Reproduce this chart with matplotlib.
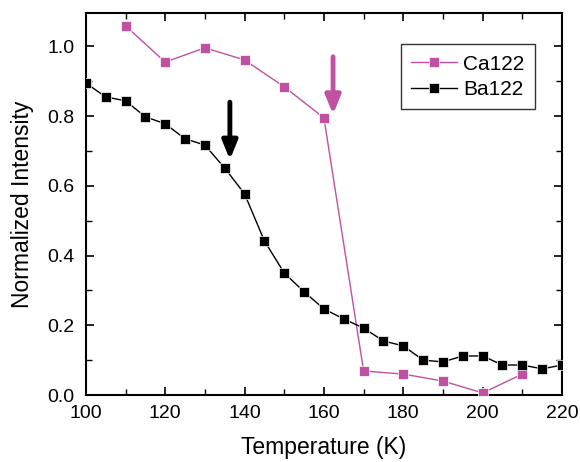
import matplotlib
matplotlib.use("Agg")
import matplotlib.pyplot as plt
from matplotlib.ticker import MultipleLocator, FormatStrFormatter

plt.rcParams["font.family"] = ["Liberation Sans", "DejaVu Sans"]

# Data
ca_temp = [110, 120, 130, 140, 150, 160, 170, 180, 190, 200, 210]
ca_int = [1.059, 0.955, 0.996, 0.961, 0.884, 0.795, 0.069, 0.060, 0.040, 0.006, 0.060]

ba_temp = [100, 105, 110, 115, 120, 125, 130, 135, 140, 145, 150, 155, 160,
           165, 170, 175, 180, 185, 190, 195, 200, 205, 210, 215, 220]
ba_int = [0.895, 0.855, 0.844, 0.798, 0.778, 0.735, 0.717, 0.651, 0.577, 0.442,
          0.350, 0.296, 0.247, 0.218, 0.192, 0.155, 0.141, 0.100, 0.095, 0.112,
          0.112, 0.086, 0.086, 0.075, 0.086]

# Arrow markers (transition temperatures): x, start y, tip y
ba_arrow = (136.3, 0.84, 0.675)
ca_arrow = (162.3, 0.97, 0.805)

PINK = "#c050a0"

fig = plt.figure(figsize=(5.8, 4.62), dpi=100)
ax = fig.add_axes([0.148, 0.145, 0.821, 0.827])

ax.plot(ca_temp, ca_int, color=PINK, marker="s", markersize=7.5, linewidth=1.0,
        markeredgecolor="white", markeredgewidth=0.5, label="Ca122", zorder=3)
ax.plot(ba_temp, ba_int, color="black", marker="s", markersize=7.5, linewidth=1.0,
        markeredgecolor="white", markeredgewidth=0.5, label="Ba122", zorder=3)

for (x, y0, y1), c in [(ba_arrow, "black"), (ca_arrow, PINK)]:
    ax.annotate("", xy=(x, y1), xytext=(x, y0),
                arrowprops=dict(arrowstyle="-|>,head_length=1.1,head_width=0.45",
                                color=c, lw=3.5, shrinkA=0, shrinkB=0))

ax.set_xlim(100, 220)
ax.set_ylim(0, 1.096)
ax.xaxis.set_major_locator(MultipleLocator(20))
ax.xaxis.set_minor_locator(MultipleLocator(10))
ax.yaxis.set_major_locator(MultipleLocator(0.2))
ax.yaxis.set_minor_locator(MultipleLocator(0.1))
ax.yaxis.set_major_formatter(FormatStrFormatter("%.1f"))
ax.tick_params(which="both", direction="in", top=True, right=True, labelsize=14)
ax.tick_params(axis="x", which="major", pad=7)
ax.tick_params(axis="y", which="major", pad=8)
ax.tick_params(which="major", length=6, width=1.2)
ax.tick_params(which="minor", length=4, width=1.0)
for s in ax.spines.values():
    s.set_linewidth(1.5)

ax.set_xlabel("Temperature (K)", fontsize=16.5, labelpad=10)
ax.set_ylabel("Normalized Intensity", fontsize=16.5, labelpad=10)

leg = ax.legend(loc="upper right", bbox_to_anchor=(0.965, 0.945), fontsize=15,
                fancybox=False, edgecolor="black", handlelength=2.2, borderpad=0.5,
                labelspacing=0.3, handletextpad=0.3)
leg.get_frame().set_linewidth(1.0)

fig.savefig("out.png", dpi=100)
